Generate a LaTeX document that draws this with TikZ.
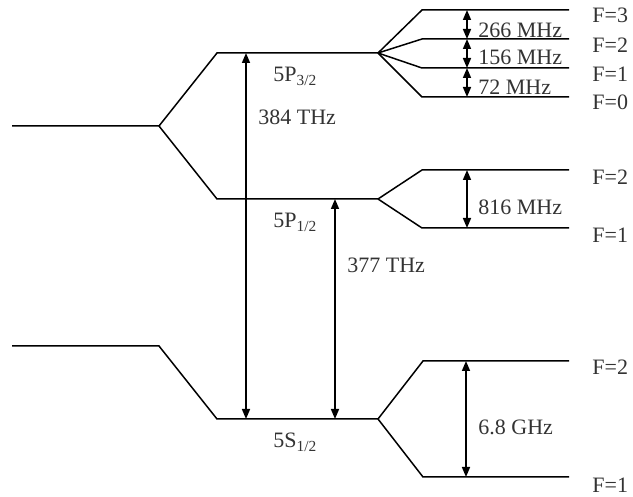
\documentclass[tikz,border=0pt]{standalone}
\usepackage{fontspec}
\setmainfont{Liberation Serif}
\usetikzlibrary{arrows.meta}
\begin{document}
\begin{tikzpicture}[x=0.5pt,y=-0.5pt,
  lvl/.style={line width=0.75pt,black},
  darr/.style={line width=0.75pt,{Triangle[length=5pt,width=4pt]}-{Triangle[length=5pt,width=4pt]}},
  lbl/.style={anchor=west,inner sep=0pt,text=black!80,font=\fontsize{11}{13}\selectfont},
  sub/.style={anchor=base west,inner sep=0pt,text=black!80,font=\fontsize{11}{13}\selectfont}]
\useasboundingbox (0,0) rectangle (633,497);
% fine structure, excited
\coordinate (pL) at (12,126);
\coordinate (pS) at (159,126);
\coordinate (p3a) at (217,53);
\coordinate (p3b) at (378,53);
\coordinate (p1a) at (217,199);
\coordinate (p1b) at (378,199);
\draw[lvl] (pL) -- (pS) -- (p3a) -- (p3b);
\draw[lvl] (pS) -- (p1a) -- (p1b);
% 5P3/2 hyperfine
\foreach \n/\y in {3/10,2/39,1/68,0/97}{
  \coordinate (t\n a) at (422,\y);
  \coordinate (t\n b) at (569,\y);
  \draw[lvl] (p3b) -- (t\n a) -- (t\n b);
}
% 5P1/2 hyperfine
\coordinate (m2a) at (422,170);
\coordinate (m2b) at (569,170);
\coordinate (m1a) at (422,228);
\coordinate (m1b) at (569,228);
\draw[lvl] (p1b) -- (m2a) -- (m2b);
\draw[lvl] (p1b) -- (m1a) -- (m1b);
% ground
\coordinate (gL) at (12,346);
\coordinate (gS) at (159,346);
\coordinate (ga) at (217,419);
\coordinate (gb) at (378,419);
\coordinate (g2a) at (423,361);
\coordinate (g2b) at (569,361);
\coordinate (g1a) at (423,477);
\coordinate (g1b) at (569,477);
\draw[lvl] (gL) -- (gS) -- (ga) -- (gb);
\draw[lvl] (gb) -- (g2a) -- (g2b);
\draw[lvl] (gb) -- (g1a) -- (g1b);
% transition arrows
\coordinate (d2top) at (246,53);
\coordinate (d2bot) at (246,419);
\coordinate (d1top) at (335,199);
\coordinate (d1bot) at (335,419);
\draw[darr] (d2bot) -- (d2top);
\draw[darr] (d1bot) -- (d1top);
% hyperfine arrows
\coordinate (h3) at (467,10);
\coordinate (h2) at (467,39);
\coordinate (h1) at (467,68);
\coordinate (h0) at (467,97);
\draw[darr] (h3) -- (h2);
\draw[darr] (h2) -- (h1);
\draw[darr] (h1) -- (h0);
\coordinate (k2) at (467,170);
\coordinate (k1) at (467,228);
\draw[darr] (k2) -- (k1);
\coordinate (q2) at (466,361);
\coordinate (q1) at (466,477);
\draw[darr] (q2) -- (q1);
% labels
\node[lbl] (l266) at (478,30) {266 MHz};
\node[lbl] (l156) at (478,57) {156 MHz};
\node[lbl] (l72) at (478,87) {72 MHz};
\node[lbl] (l816) at (478,207) {816 MHz};
\node[lbl] (l68) at (478,427) {6.8 GHz};
\node[lbl] (l384) at (258,117) {384 THz};
\node[lbl] (l377) at (347,265) {377 THz};
\node[lbl] (f3) at (592,15) {F=3};
\node[lbl] (f2) at (592,45) {F=2};
\node[lbl] (f1) at (592,74) {F=1};
\node[lbl] (f0) at (592,102) {F=0};
\node[lbl] (fm2) at (592,177) {F=2};
\node[lbl] (fm1) at (592,235) {F=1};
\node[lbl] (fg2) at (592,367) {F=2};
\node[lbl] (fg1) at (592,485) {F=1};
\node[sub] (n3) at (273,82) {5P\textsubscript{3/2}};
\node[sub] (n1) at (273,228) {5P\textsubscript{1/2}};
\node[sub] (n0) at (273,448) {5S\textsubscript{1/2}};
\end{tikzpicture}
\end{document}
